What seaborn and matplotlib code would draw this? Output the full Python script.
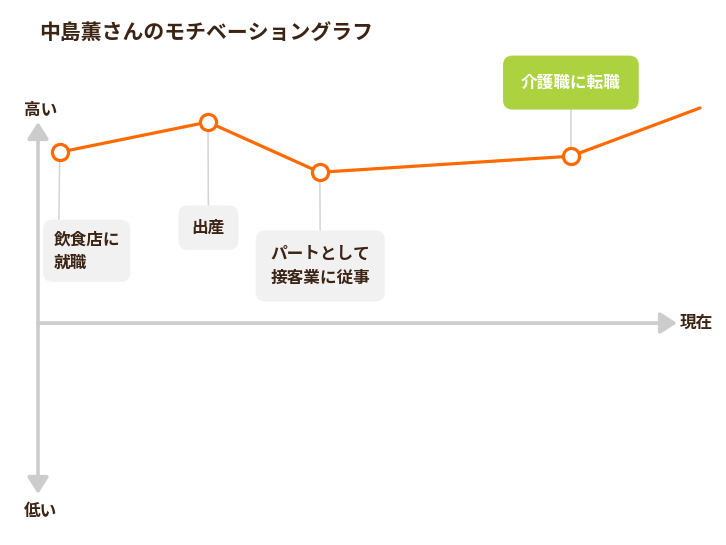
import matplotlib
matplotlib.use("Agg")
import matplotlib.pyplot as plt
import seaborn as sns
import pandas as pd

sns.set_style("white")
plt.rcParams['font.family'] = ['Noto Sans CJK JP', 'DejaVu Sans']

# motivation curve (time on x, motivation on y; 0 = neutral, 100 = high, -85 = low)
life_time = [0.34, 2.66, 4.41, 8.34, 10.36]
motivation = [85, 100, 75, 83, 107]
event_labels = ['飲食店に\n就職', '出産', 'パートとして\n接客業に従事', '介護職に転職']

TITLE = '中島薫さんのモチベーショングラフ'
TEXT_COLOR = '#3c2415'
ORANGE = '#ff6a00'
AXIS_GRAY = '#cccccc'
BOX_GRAY = '#f1f1f1'
GREEN = '#acd33f'

df = pd.DataFrame({'time': life_time, 'motivation': motivation})
events = df.iloc[:len(event_labels)]

fig = plt.figure(figsize=(7.26, 5.45), dpi=100)
ax = fig.add_axes([0, 0, 1, 1])
ax.set_xlim(-0.595, 10.767)
ax.set_ylim(-110.4, 160.7)
ax.axis('off')

# axes arrows
arrow_style = 'head_length=0.5,head_width=0.32'
ax.annotate('', xy=(10, 0), xytext=(0, 0),
            arrowprops=dict(arrowstyle='-|>,' + arrow_style,
                            color=AXIS_GRAY, lw=2.6, shrinkA=0, shrinkB=0,
                            mutation_scale=20))
ax.annotate('', xy=(0, 100), xytext=(0, -85),
            arrowprops=dict(arrowstyle='<|-|>,' + arrow_style,
                            color=AXIS_GRAY, lw=2.6, shrinkA=0, shrinkB=0,
                            mutation_scale=20))

lab_kw = dict(textcoords='offset points', ha='center', va='center',
              fontsize=12, fontweight='bold', color=TEXT_COLOR)
ax.annotate('高い', xy=(0, 100), xytext=(2, 8.5), **lab_kw)
ax.annotate('低い', xy=(0, -85), xytext=(2, -12), **lab_kw)
lab_kw['ha'] = 'left'
ax.annotate('現在', xy=(10, 0), xytext=(2, 0), **lab_kw)

# motivation line
sns.lineplot(data=df, x='time', y='motivation', color=ORANGE, lw=2.3, ax=ax,
             zorder=3)
sns.scatterplot(data=events, x='time', y='motivation', s=135, color='white',
                edgecolor=ORANGE, linewidth=2.3, ax=ax, zorder=4)

# event boxes: (offset in points, relpos of connector, pad, face, text colour)
box_layout = [
    ((19.4, -71), (0.08, 1.0), 0.62, BOX_GRAY, TEXT_COLOR),
    ((0.3, -76), (0.5, 1.0), 0.8, BOX_GRAY, TEXT_COLOR),
    ((0.3, -67.5), (0.5, 1.0), 0.88, BOX_GRAY, TEXT_COLOR),
    ((0, 53), (0.5, 0.0), 1.08, GREEN, 'white'),
]

for (x, y), label, (offset, relpos, pad, face, tcol) in zip(
        zip(events['time'], events['motivation']), event_labels, box_layout):
    ax.annotate(label, xy=(x, y), xytext=offset, textcoords='offset points',
                ha='center', va='center', multialignment='left',
                fontsize=12, fontweight='bold', color=tcol, linespacing=1.4,
                bbox=dict(boxstyle=f'round,pad={pad},rounding_size=0.58',
                          fc=face, ec='none'),
                arrowprops=dict(arrowstyle='-', color='#d4d4d4', lw=1.1,
                                relpos=relpos, shrinkA=0, shrinkB=0),
                zorder=2)

fig.text(39 / 726, 1 - 32 / 545, TITLE, ha='left', va='center',
         fontsize=15, fontweight='bold', color=TEXT_COLOR)

fig.savefig('out.png', dpi=100, facecolor='white')
